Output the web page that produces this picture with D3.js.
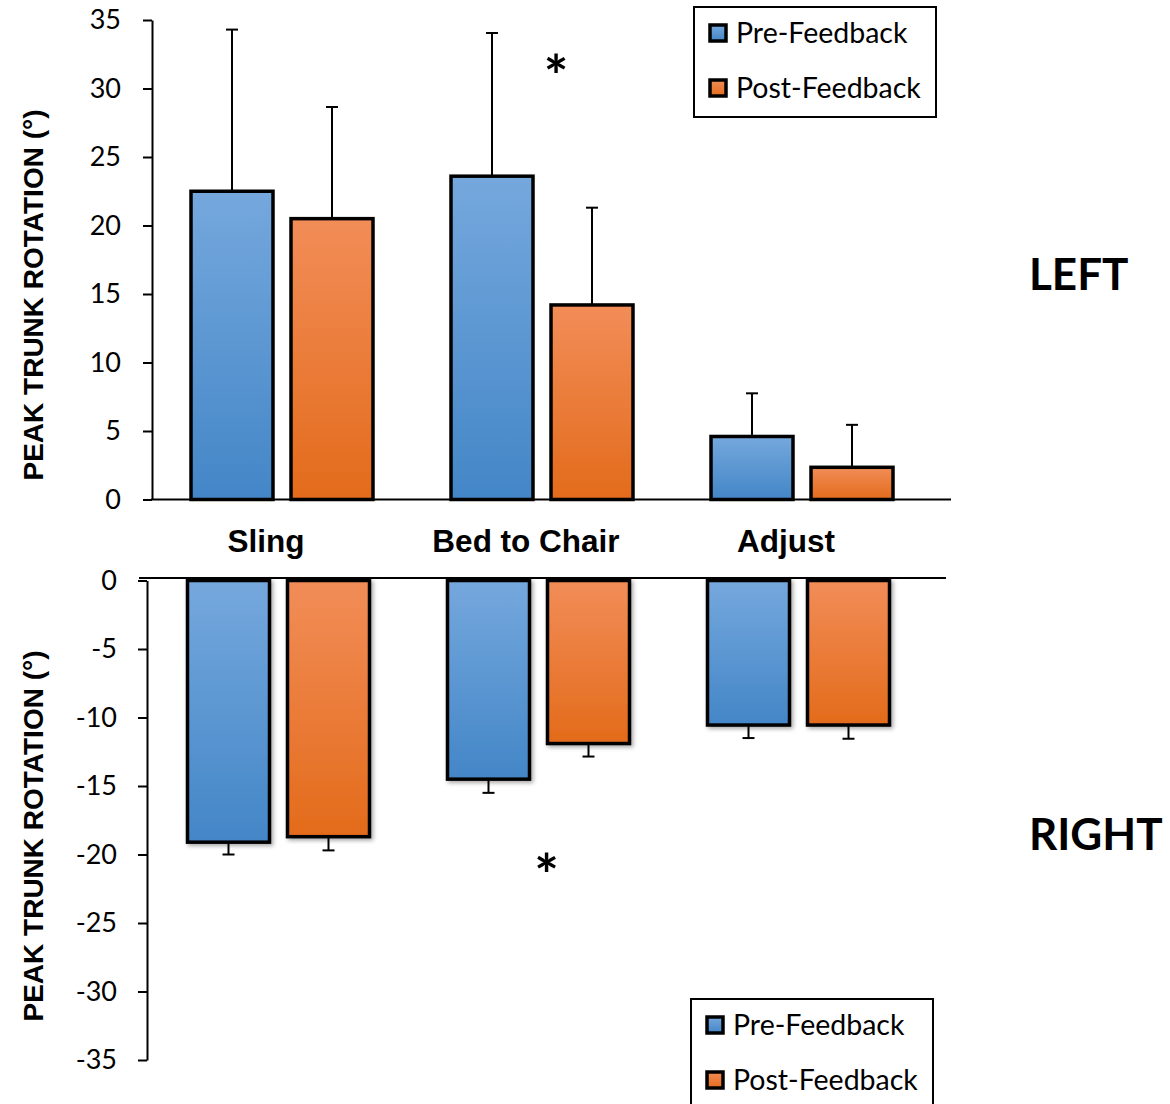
<!DOCTYPE html>
<html>
<head>
<meta charset="utf-8">
<script src="https://cdn.jsdelivr.net/npm/d3@7"></script>
<style>
  body { margin: 0; background: #fff; }
  svg { display: block; }
  .tick text { font-family: Lato, sans-serif; font-size: 27px; fill: #000; }
  .axis path, .axis line { stroke: #000; stroke-width: 2px; }
</style>
</head>
<body>
<div id="chart"></div>
<script>
var categories = ["Sling", "Bed to Chair", "Adjust"];
var series = ["Pre-Feedback", "Post-Feedback"];

// left rotation (top panel), degrees, mean and SD
var leftPre = [22.5, 23.6, 4.6];
var leftPost = [20.5, 14.2, 2.35];
var leftPreSd = [11.8, 10.45, 3.15];
var leftPostSd = [8.15, 7.1, 3.1];

// right rotation (bottom panel)
var rightPre = [-19.1, -14.5, -10.55];
var rightPost = [-18.7, -11.9, -10.55];
var rightPreSd = [0.9, 1.0, 0.95];
var rightPostSd = [1.0, 0.95, 1.0];

var leftTicks = [0, 5, 10, 15, 20, 25, 30, 35];
var rightTicks = [0, -5, -10, -15, -20, -25, -30, -35];

// significance markers
var leftStars = [{cat: "Bed to Chair", value: 31.9}];
var rightStars = [{cat: "Bed to Chair", value: -20.5}];

var W = 1170, H = 1104;

var svg = d3.select("#chart").append("svg")
    .attr("width", W)
    .attr("height", H);

var defs = svg.append("defs");

function addGrad(id, c0, c1) {
    var g = defs.append("linearGradient")
        .attr("id", id)
        .attr("x1", 0).attr("y1", 0).attr("x2", 0).attr("y2", 1);
    g.append("stop").attr("offset", "0%").attr("stop-color", c0);
    g.append("stop").attr("offset", "100%").attr("stop-color", c1);
}
addGrad("gBlue", "#75a8dd", "#4386c7");
addGrad("gOrange", "#f28d58", "#e36b1b");

var shadow = defs.append("filter").attr("id", "shadow")
    .attr("x", "-10%").attr("y", "-10%").attr("width", "130%").attr("height", "130%");
shadow.append("feDropShadow")
    .attr("dx", 2).attr("dy", 2).attr("stdDeviation", 2)
    .attr("flood-color", "#000").attr("flood-opacity", 0.35);

var fillFor = {"Pre-Feedback": "url(#gBlue)", "Post-Feedback": "url(#gOrange)"};

var xSub = d3.scaleBand().domain(series).range([39, 221]).paddingInner(0.18);

function makeRows(pre, post, preSd, postSd) {
    return categories.map(function(c, i) {
        return {cat: c, values: [
            {name: series[0], v: pre[i], sd: preSd[i]},
            {name: series[1], v: post[i], sd: postSd[i]}
        ]};
    });
}

function drawPanel(opt) {
    var x = d3.scaleBand().domain(categories).range(opt.xRange);
    var y = d3.scaleLinear().domain(opt.yDomain).range(opt.yRange);
    var rows = makeRows(opt.pre, opt.post, opt.preSd, opt.postSd);
    var g = svg.append("g");

    // category baseline
    g.append("line")
        .attr("x1", opt.lineX[0]).attr("x2", opt.lineX[1])
        .attr("y1", opt.lineY).attr("y2", opt.lineY)
        .attr("stroke", "#000").attr("stroke-width", 2);

    var grp = g.selectAll(".grp").data(rows).enter().append("g")
        .attr("class", "grp")
        .attr("transform", function(d) { return "translate(" + x(d.cat) + ",0)"; });

    var bar = grp.selectAll(".bar").data(function(d) { return d.values; }).enter().append("g");

    // error bars (one side only, away from zero)
    bar.append("line")
        .attr("x1", function(d) { return xSub(d.name) + xSub.bandwidth() / 2; })
        .attr("x2", function(d) { return xSub(d.name) + xSub.bandwidth() / 2; })
        .attr("y1", function(d) { return y(d.v); })
        .attr("y2", function(d) { return y(d.v + (d.v >= 0 ? d.sd : -d.sd)); })
        .attr("stroke", "#000").attr("stroke-width", 2);
    bar.append("line")
        .attr("x1", function(d) { return xSub(d.name) + xSub.bandwidth() / 2 - 6; })
        .attr("x2", function(d) { return xSub(d.name) + xSub.bandwidth() / 2 + 6; })
        .attr("y1", function(d) { return y(d.v + (d.v >= 0 ? d.sd : -d.sd)); })
        .attr("y2", function(d) { return y(d.v + (d.v >= 0 ? d.sd : -d.sd)); })
        .attr("stroke", "#000").attr("stroke-width", 2);

    bar.append("rect")
        .attr("x", function(d) { return xSub(d.name); })
        .attr("width", xSub.bandwidth())
        .attr("y", function(d) { return Math.min(y(0), y(d.v)); })
        .attr("height", function(d) { return Math.abs(y(d.v) - y(0)); })
        .attr("fill", function(d) { return fillFor[d.name]; })
        .attr("stroke", "#000")
        .attr("stroke-width", 3.5)
        .attr("filter", opt.shadow ? "url(#shadow)" : null);

    // y axis
    g.append("g")
        .attr("class", "axis")
        .attr("transform", "translate(" + opt.axisX + ",0)")
        .call(d3.axisLeft(y).tickValues(opt.ticks).tickSize(9).tickSizeOuter(0)
            .tickPadding(opt.tickPad).tickFormat(function(d) { return String(d); }));

    // axis title
    svg.append("text")
        .attr("transform", "translate(43," + opt.titleY + ") rotate(-90)")
        .attr("text-anchor", "middle")
        .style("font-family", "'Liberation Sans', Arial, sans-serif")
        .style("font-weight", "bold")
        .style("font-size", "28px")
        .text("PEAK TRUNK ROTATION (°)");

    // significance stars
    g.selectAll(".star").data(opt.stars).enter().append("text")
        .attr("x", function(d) { return x(d.cat) + x.bandwidth() / 2 + opt.starDx; })
        .attr("y", function(d) { return y(d.value); })
        .attr("text-anchor", "middle")
        .attr("dy", "0.6em")
        .style("font-family", "Lato, sans-serif")
        .style("font-weight", "bold")
        .style("font-size", "58px")
        .text("*");

    // side label
    svg.append("text")
        .attr("x", 1029).attr("y", opt.sideY)
        .style("font-family", "Lato, sans-serif")
        .style("font-weight", "bold")
        .style("font-size", "44px")
        .text(opt.side);

    // legend
    var lg = svg.append("g").attr("transform", "translate(" + opt.legend[0] + "," + opt.legend[1] + ")");
    lg.append("rect")
        .attr("width", 242).attr("height", 110)
        .attr("fill", "#fff").attr("stroke", "#000").attr("stroke-width", 2);
    var item = lg.selectAll(".item").data(series).enter().append("g")
        .attr("transform", function(d, i) { return "translate(15," + (26 + i * 55) + ")"; });
    item.append("rect")
        .attr("x", 1).attr("y", -8).attr("width", 16).attr("height", 16)
        .attr("fill", function(d) { return fillFor[d]; })
        .attr("stroke", "#000").attr("stroke-width", 3.5);
    item.append("text")
        .attr("x", 27).attr("dy", "0.36em")
        .style("font-family", "Lato, sans-serif")
        .style("font-size", "28.5px")
        .text(function(d) { return d; });

    return x;
}

var xTop = drawPanel({
    xRange: [152, 932], yDomain: [0, 35], yRange: [499.5, 20],
    pre: leftPre, post: leftPost, preSd: leftPreSd, postSd: leftPostSd,
    lineX: [151, 951], lineY: 499.5, axisX: 152, ticks: leftTicks, tickPad: 22,
    titleY: 295, stars: leftStars, starDx: 14, side: "LEFT", sideY: 290,
    legend: [694, 7], shadow: false
});

drawPanel({
    xRange: [148.5, 928.5], yDomain: [-35, 0], yRange: [1060, 580.5],
    pre: rightPre, post: rightPost, preSd: rightPreSd, postSd: rightPostSd,
    lineX: [139, 946], lineY: 578, axisX: 147, ticks: rightTicks, tickPad: 21,
    titleY: 836, stars: rightStars, starDx: 8, side: "RIGHT", sideY: 850,
    legend: [691, 999], shadow: true
});

// category labels between the panels
svg.selectAll(".cat").data(categories).enter().append("text")
    .attr("x", function(d) { return xTop(d) + xTop.bandwidth() / 2 - 16; })
    .attr("y", 552)
    .attr("text-anchor", "middle")
    .style("font-family", "'Liberation Sans', Arial, sans-serif")
    .style("font-weight", "bold")
    .style("font-size", "31.5px")
    .text(function(d) { return d; });
</script>
</body>
</html>
